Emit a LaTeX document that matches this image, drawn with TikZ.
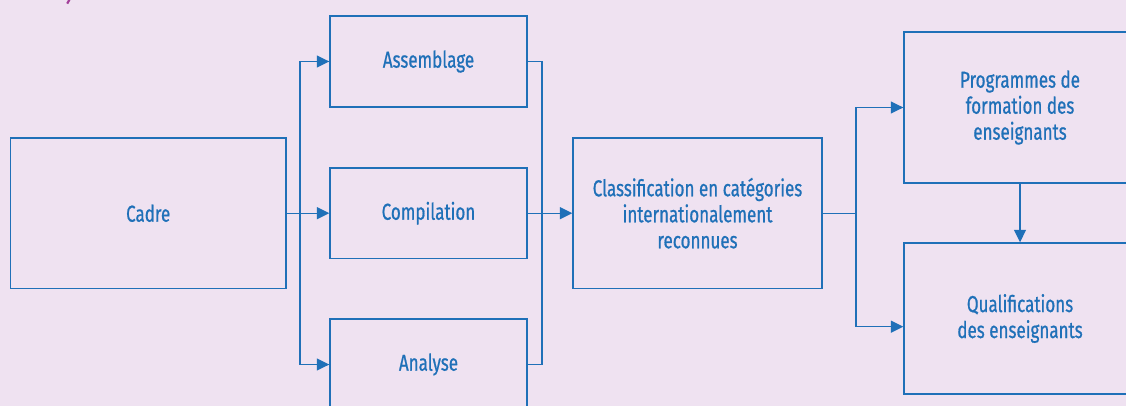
\documentclass[tikz,border=0pt]{standalone}
\usepackage{fontspec}
\setmainfont{Fira Sans}[FakeStretch=0.74,FakeBold=0.7]
\usetikzlibrary{arrows.meta,calc}
\definecolor{pagebg}{HTML}{EFE2F1}
\definecolor{flowblue}{HTML}{1F70B8}
\definecolor{titlemag}{HTML}{A3409A}
\begin{document}
\begin{tikzpicture}[x=1pt,y=-1pt,
  box/.style={draw=flowblue,line width=1.4pt,text=flowblue,align=center,
    inner sep=0pt,font=\fontsize{23}{26}\selectfont},
  link/.style={draw=flowblue,line width=1.4pt},
  arr/.style={link,-{Triangle[length=12.5pt,width=12pt]}}]
% page and background
\fill[pagebg] (0,0) rectangle (1126,406);
\useasboundingbox (0,0) rectangle (1126,406);
% tail of the heading above the figure
\draw[titlemag,line width=2.2pt] (69.8,-1) -- (67.2,3.6);
% boxes
\node[box,minimum width=275.5pt,minimum height=150.5pt] (cadre) at (148.2,213.2) {Cadre};
\node[box,minimum width=197pt,minimum height=91pt] (assem) at (428.5,61.5) {Assemblage};
\node[box,minimum width=197pt,minimum height=90.5pt] (comp) at (428.5,213.2) {Compilation};
\node[box,minimum width=197pt,minimum height=91pt] (anal) at (428.5,364.5) {Analyse};
\node[box,minimum width=249pt,minimum height=150.5pt] (classif) at (697.5,213.2)
  {Classification en catégories\\internationalement\\reconnues};
\node[box,minimum width=232pt,minimum height=151pt] (prog) at (1020,107.5)
  {Programmes de\\formation des\\enseignants};
\node[box,minimum width=232pt,minimum height=151pt] (qual) at (1020,318.5)
  {Qualifications\\des enseignants};
% split after the framework
\coordinate (split) at (300,213.2);
\draw[link] (cadre.east) -- (split);
\draw[arr] (split) |- (assem.west);
\draw[arr] (split) -- (comp.west);
\draw[arr] (split) |- (anal.west);
% collector into the classification
\coordinate (gather) at (542,213.2);
\draw[link] (assem.east) -| (gather);
\draw[link] (anal.east) -| (gather);
\draw[arr] (comp.east) -- (classif.west);
% split towards programmes and qualifications
\coordinate (fork) at (856,213.2);
\coordinate (qualin) at ($(qual.west)+(0,8.2)$);
\draw[link] (classif.east) -- (fork);
\draw[arr] (fork) |- (prog.west);
\draw[arr] (fork) |- (qualin);
\draw[arr] (prog.south) -- (qual.north);
\end{tikzpicture}
\end{document}
